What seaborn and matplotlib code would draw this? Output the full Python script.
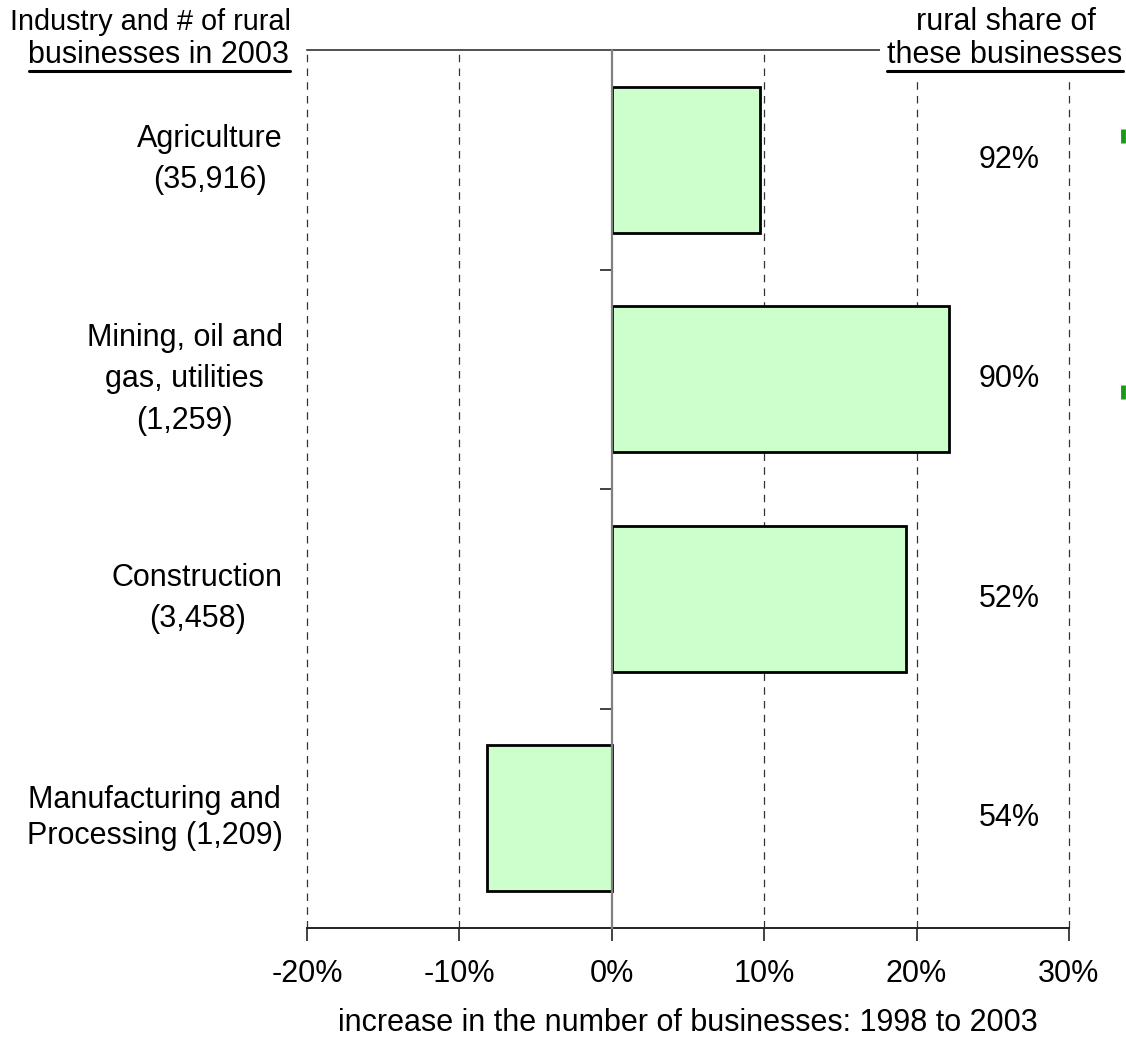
import matplotlib
matplotlib.use("Agg")
import matplotlib.pyplot as plt
from matplotlib.lines import Line2D
from matplotlib.patches import Rectangle
from matplotlib.ticker import FuncFormatter, FixedLocator
import seaborn as sns
import pandas as pd

# Data
industries = ["Agriculture\n(35,916)",
              "Mining, oil and\ngas, utilities\n(1,259)",
              "Construction\n(3,458)",
              "Manufacturing and\nProcessing (1,209)"]
label_spacing = [1.49, 1.49, 1.49, 1.25]
growth_pct = [9.7, 22.1, 19.3, -8.2]          # change 1998-2003, %
rural_share = ["92%", "90%", "52%", "54%"]     # rural share of businesses
x_ticks = [-20, -10, 0, 10, 20, 30]

df = pd.DataFrame({"industry": industries, "growth": growth_pct})

sns.set_theme(style="white")
plt.rcParams["font.family"] = ["Liberation Sans", "DejaVu Sans"]
plt.rcParams["text.color"] = "black"
FS = 22

fig = plt.figure(figsize=(11.26, 10.38), dpi=100)
ax = fig.add_axes([307 / 1126, 110 / 1038, 762 / 1126, 878 / 1038])

sns.barplot(data=df, x="growth", y="industry", orient="h", ax=ax,
            color="#ccffcc", saturation=1, edgecolor="black",
            linewidth=2, width=0.665, zorder=3)

ax.set_xlim(-20, 30)
ax.set_ylim(3.5, -0.5)

# dashed vertical gridlines
for t in x_ticks:
    if t != 0:
        ax.axvline(t, color="#333333", lw=0.9, ls=(0, (6, 5)), zorder=1,
                   clip_on=False)

# spines: solid bottom and top, y axis moved to zero
ax.spines["right"].set_visible(False)
ax.spines["top"].set_color("#333333")
ax.spines["top"].set_linewidth(1.2)
ax.spines["bottom"].set_color("#222222")
ax.spines["bottom"].set_linewidth(1.4)
ax.spines["left"].set_position(("data", 0))
ax.spines["left"].set_color("#808080")
ax.spines["left"].set_linewidth(1.6)
ax.spines["left"].set_zorder(4)

ax.xaxis.set_major_locator(FixedLocator(x_ticks))
ax.xaxis.set_major_formatter(FuncFormatter(lambda v, p: f"{v:.0f}%"))
ax.tick_params(axis="x", bottom=True, length=9, width=1.2, color="#222222",
               direction="out", pad=13, labelsize=FS, labelcolor="black")

# y axis: minor ticks at category boundaries, no major labels
ax.yaxis.set_major_locator(FixedLocator([]))
ax.yaxis.set_minor_locator(FixedLocator([0.5, 1.5, 2.5]))
ax.tick_params(axis="y", which="minor", left=True, length=9, width=1.2,
               color="#222222", direction="out")
ax.set_ylabel("")
ax.set_xlabel("increase in the number of businesses: 1998 to 2003",
              fontsize=FS, labelpad=14, color="black")

# category labels on the left
for i, (name, ls) in enumerate(zip(industries, label_spacing)):
    ax.text(-0.032, i, name, transform=ax.get_yaxis_transform(),
            ha="right", va="center", multialignment="center",
            fontsize=FS, linespacing=ls, color="black")

# rural share labels on the right
for i, share in enumerate(rural_share):
    ax.text(26.1, i, share, ha="center", va="center", fontsize=FS,
            color="black", zorder=5)

# headers
fig.add_artist(Rectangle((880 / 1126, 1 - 82 / 1038), 246 / 1126, 82 / 1038,
                         transform=fig.transFigure, facecolor="white",
                         edgecolor="none", zorder=5))
hdr = []
fig.text(150 / 1126, 1 - 22.5 / 1038, "Industry and # of rural", ha="center",
         va="center", fontsize=20.8, color="black", zorder=6)
hdr.append(fig.text(159 / 1126, 1 - 55 / 1038, "businesses in 2003",
                    ha="center", va="center", fontsize=FS, color="black",
                    zorder=6))
fig.text(1006 / 1126, 1 - 22.5 / 1038, "rural share of", ha="center",
         va="center", fontsize=FS, color="black", zorder=6)
hdr.append(fig.text(1005 / 1126, 1 - 55 / 1038, "these businesses",
                    ha="center", va="center", fontsize=FS, color="black",
                    zorder=6))

fig.canvas.draw()
inv = fig.transFigure.inverted()
for t in hdr:
    bb = t.get_window_extent()
    (x0, y0), (x1, _) = inv.transform([(bb.x0, bb.y0), (bb.x1, bb.y1)])
    fig.add_artist(Line2D([x0, x1], [y0 - 1 / 1038, y0 - 1 / 1038],
                          transform=fig.transFigure, color="black",
                          lw=2.2, zorder=6))

# small green markers at the right edge
for yy in (136, 392):
    fig.add_artist(Line2D([1123 / 1126, 1123 / 1126],
                          [1 - (yy - 7) / 1038, 1 - (yy + 7) / 1038],
                          transform=fig.transFigure, color="#1a9a1a",
                          lw=3.5, solid_capstyle="butt", zorder=6))

fig.savefig("out.png", dpi=100, facecolor="white")
